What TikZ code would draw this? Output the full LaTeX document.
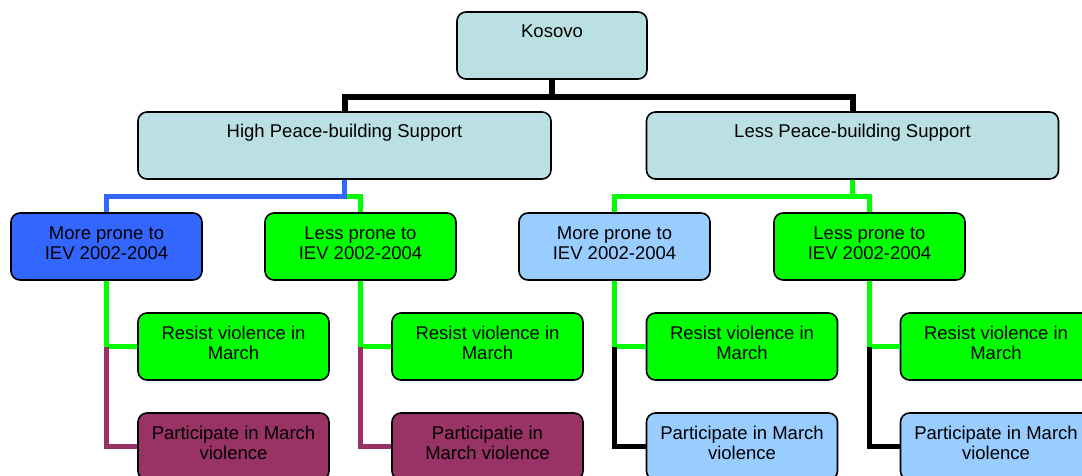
\documentclass[tikz,border=0pt]{standalone}
\usepackage{fontspec}
\setmainfont{Liberation Sans}
\definecolor{paleblue}{HTML}{BBE0E3}
\definecolor{royal}{HTML}{3366FF}
\definecolor{lime}{HTML}{00FF00}
\definecolor{skyblue}{HTML}{99CCFF}
\definecolor{plum}{HTML}{993366}
\begin{document}
\begin{tikzpicture}[x=1pt,y=-1pt,
    every node/.style={draw,line width=1.6pt,rounded corners=9pt,align=center,
      font=\fontsize{18.5}{20.5}\selectfont,inner xsep=2pt,inner ysep=1pt,
      text height=25pt,text depth=40pt,minimum height=67pt},
    topbox/.style={fill=paleblue},
    twoline/.style={minimum width=191pt,text height=45.5pt,text depth=19.5pt},
    link/.style={line width=5pt}]
        \useasboundingbox (0,0) rectangle (1082,476);
        \node[topbox,minimum width=190pt] (kosovo) at (552,45.5) {Kosovo};
        \node[topbox,minimum width=413pt] (high) at (344.5,145.5) {High Peace-building Support};
        \node[topbox,minimum width=412pt] (less) at (852.5,145.5) {Less Peace-building Support};
        % prone to IEV
        \node[twoline,fill=royal] (moreH) at (106.5,246.5) {More prone to\\IEV 2002-2004};
        \node[twoline,fill=lime] (lessH) at (360.5,246.5) {Less prone to\\IEV 2002-2004};
        \node[twoline,fill=skyblue] (moreL) at (614.5,246.5) {More prone to\\IEV 2002-2004};
        \node[twoline,fill=lime] (lessL) at (869.5,246.5) {Less prone to\\IEV 2002-2004};
        % March 2004
        \node[twoline,fill=lime] (resA) at (233.5,346.5) {Resist violence in\\March};
        \node[twoline,fill=lime] (resB) at (487.5,346.5) {Resist violence in\\March};
        \node[twoline,fill=lime] (resC) at (742,346.5) {Resist violence in\\March};
        \node[twoline,fill=lime] (resD) at (996,346.5) {Resist violence in\\March};
        \node[twoline,fill=plum] (parA) at (233.5,446.5) {Participate in March\\violence};
        \node[twoline,fill=plum] (parB) at (487.5,446.5) {Participatie in\\March violence};
        \node[twoline,fill=skyblue] (parC) at (742,446.5) {Participate in March\\violence};
        \node[twoline,fill=skyblue] (parD) at (996,446.5) {Participate in March\\violence};
        % links
        \draw[link,line width=6pt] (kosovo.south) -- ++(0,17) -| (high.north);
        \draw[link,line width=6pt] (kosovo.south) -- ++(0,17) -| (less.north);
        \draw[link,lime] (high.south) -- ++(0,17) -| (lessH.north);
        \draw[link,royal] (high.south) -- ++(0,17) -| (moreH.north);
        \draw[link,lime] (less.south) -- ++(0,17) -| (moreL.north);
        \draw[link,lime] (less.south) -- ++(0,17) -| (lessL.north);
        \draw[link,lime] (moreH.south) |- (resA.west);
        \draw[link,plum] (moreH.south |- resA.west) |- (parA.west);
        \draw[link,lime] (lessH.south) |- (resB.west);
        \draw[link,plum] (lessH.south |- resB.west) |- (parB.west);
        \draw[link,lime] (moreL.south) |- (resC.west);
        \draw[link,black] (moreL.south |- resC.west) |- (parC.west);
        \draw[link,lime] (lessL.south) |- (resD.west);
        \draw[link,black] (lessL.south |- resD.west) |- (parD.west);
    \end{tikzpicture}
\end{document}
